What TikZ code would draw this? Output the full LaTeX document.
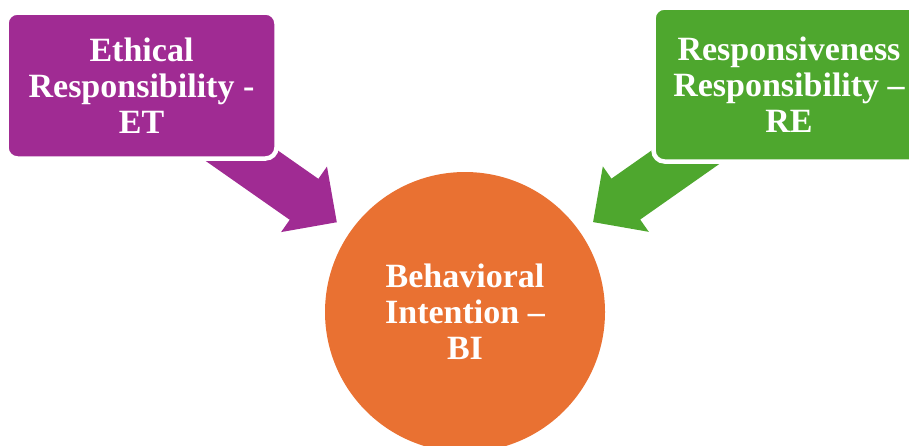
\documentclass[tikz,border=0pt]{standalone}
\usepackage{fontspec}
\setmainfont{Liberation Serif}
\usetikzlibrary{calc}
\definecolor{etpurple}{HTML}{A02B93}
\definecolor{regreen}{HTML}{4EA72E}
\definecolor{biorange}{HTML}{E97132}
\pgfdeclarelayer{bg}
\pgfsetlayers{bg,main}
\begin{document}
\begin{tikzpicture}[x=1pt,y=-1pt,
  labelfont/.style={text=white, align=center, font=\fontsize{34}{36}\selectfont\bfseries},
  box/.style={rectangle, rounded corners=11pt, draw=white, line width=4.5pt, inner sep=0pt, labelfont},
  hub/.style={circle, fill=biorange, minimum size=280pt, inner sep=0pt, labelfont}]
\useasboundingbox (0,0) rectangle (909,445);
\node[box, fill=etpurple, minimum width=270pt, minimum height=146pt] (ET) at (141.5,85.5) {Ethical\\Responsibility -\\ET};
\node[box, fill=regreen, minimum width=271pt, minimum height=154pt] (RE) at (789,84.5) {Responsiveness\\Responsibility –\\RE};
\node[hub] (BI) at (465,312) {Behavioral\\Intention –\\BI};
\begin{pgfonlayer}{bg}
\coordinate (etT) at ($(BI.center)!156.5pt!(ET.center)$);
\coordinate (etH) at ($(BI.center)!196.5pt!(ET.center)$);
\coordinate (reT) at ($(BI.center)!156.5pt!(RE.center)$);
\coordinate (reH) at ($(BI.center)!196.5pt!(RE.center)$);
\fill[etpurple]
  ($(ET.center)!25pt!90:(BI.center)$) -- ($(etH)!25pt!90:(BI.center)$) --
  ($(etH)!40pt!90:(BI.center)$) -- (etT) -- ($(etH)!40pt!-90:(BI.center)$) --
  ($(etH)!25pt!-90:(BI.center)$) -- ($(ET.center)!25pt!-90:(BI.center)$) -- cycle;
\fill[regreen]
  ($(RE.center)!25pt!90:(BI.center)$) -- ($(reH)!25pt!90:(BI.center)$) --
  ($(reH)!40pt!90:(BI.center)$) -- (reT) -- ($(reH)!40pt!-90:(BI.center)$) --
  ($(reH)!25pt!-90:(BI.center)$) -- ($(RE.center)!25pt!-90:(BI.center)$) -- cycle;
\end{pgfonlayer}
\end{tikzpicture}
\end{document}
